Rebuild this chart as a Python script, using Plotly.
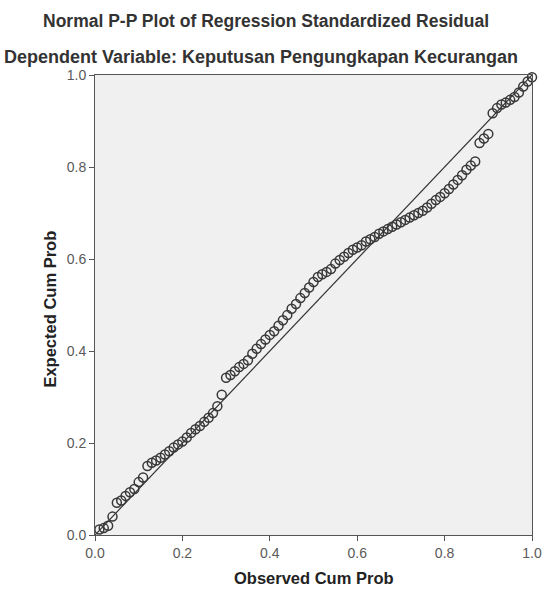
import plotly.graph_objects as go

observed_cum_prob = [
    0.01, 0.02, 0.03, 0.04, 0.05, 0.06, 0.07, 0.08, 0.09, 0.10,
    0.11, 0.12, 0.13, 0.14, 0.15, 0.16, 0.17, 0.18, 0.19, 0.20,
    0.21, 0.22, 0.23, 0.24, 0.25, 0.26, 0.27, 0.28, 0.29, 0.30,
    0.31, 0.32, 0.33, 0.34, 0.35, 0.36, 0.37, 0.38, 0.39, 0.40,
    0.41, 0.42, 0.43, 0.44, 0.45, 0.46, 0.47, 0.48, 0.49, 0.50,
    0.51, 0.52, 0.53, 0.54, 0.55, 0.56, 0.57, 0.58, 0.59, 0.60,
    0.61, 0.62, 0.63, 0.64, 0.65, 0.66, 0.67, 0.68, 0.69, 0.70,
    0.71, 0.72, 0.73, 0.74, 0.75, 0.76, 0.77, 0.78, 0.79, 0.80,
    0.81, 0.82, 0.83, 0.84, 0.85, 0.86, 0.87, 0.88, 0.89, 0.90,
    0.91, 0.92, 0.93, 0.94, 0.95, 0.96, 0.97, 0.98, 0.99, 1.00,
]
expected_cum_prob = [
    0.012, 0.015, 0.020, 0.040, 0.070, 0.075, 0.085, 0.093, 0.100, 0.115,
    0.125, 0.150, 0.157, 0.162, 0.168, 0.175, 0.182, 0.190, 0.197, 0.203,
    0.212, 0.222, 0.230, 0.237, 0.246, 0.255, 0.265, 0.280, 0.305, 0.342,
    0.348, 0.356, 0.365, 0.372, 0.380, 0.394, 0.405, 0.415, 0.425, 0.435,
    0.443, 0.455, 0.467, 0.478, 0.492, 0.502, 0.515, 0.526, 0.538, 0.550,
    0.561, 0.567, 0.572, 0.578, 0.590, 0.598, 0.605, 0.613, 0.620, 0.625,
    0.630, 0.638, 0.643, 0.648, 0.655, 0.660, 0.665, 0.670, 0.675, 0.680,
    0.685, 0.690, 0.695, 0.700, 0.705, 0.712, 0.720, 0.728, 0.735, 0.743,
    0.752, 0.762, 0.772, 0.782, 0.794, 0.803, 0.812, 0.852, 0.862, 0.872,
    0.917, 0.928, 0.936, 0.940, 0.946, 0.952, 0.962, 0.975, 0.986, 0.995,
]
reference_line = [0.0, 1.0]
tick_values = [0.0, 0.2, 0.4, 0.6, 0.8, 1.0]
tick_labels = ["0.0", "0.2", "0.4", "0.6", "0.8", "1.0"]

title_text = "Normal P-P Plot of Regression Standardized Residual"
subtitle_text = "Dependent Variable: Keputusan Pengungkapan Kecurangan"
x_title = "Observed Cum Prob"
y_title = "Expected Cum Prob"

FONT = "Liberation Sans, Arial, sans-serif"

fig = go.Figure()
fig.add_trace(go.Scatter(
    x=reference_line, y=reference_line, mode="lines",
    line=dict(color="#333333", width=1.2), hoverinfo="skip", showlegend=False,
))
fig.add_trace(go.Scatter(
    x=observed_cum_prob, y=expected_cum_prob, mode="markers", cliponaxis=False,
    marker=dict(symbol="circle-open", size=9, color="#383838", line=dict(width=1.5)),
    showlegend=False,
))

axis_common = dict(
    range=[0, 1], tickvals=tick_values, ticktext=tick_labels,
    showgrid=False, zeroline=False, showline=True, linecolor="#555555", linewidth=1,
    mirror=True, ticks="outside", ticklen=5, tickcolor="#555555",
    tickfont=dict(family=FONT, size=14, color="#5a5a5a"), fixedrange=True,
)
fig.update_xaxes(**axis_common)
fig.update_yaxes(**axis_common)

fig.update_layout(
    width=554, height=591,
    margin=dict(l=95, r=19, t=75, b=56),
    paper_bgcolor="white", plot_bgcolor="#f0f0f0",
    font=dict(family=FONT),
    annotations=[
        dict(text="<b>%s</b>" % title_text, x=0.392, y=1.117, xref="paper", yref="paper",
             xanchor="center", yanchor="middle", showarrow=False,
             font=dict(family=FONT, size=17.5, color="#333333")),
        dict(text="<b>%s</b>" % subtitle_text, x=0.38, y=1.039, xref="paper", yref="paper",
             xanchor="center", yanchor="middle", showarrow=False,
             font=dict(family=FONT, size=18, color="#333333")),
        dict(text="<b>%s</b>" % x_title, x=0.5, y=-0.093, xref="paper", yref="paper",
             xanchor="center", yanchor="middle", showarrow=False,
             font=dict(family=FONT, size=16.5, color="#222222")),
        dict(text="<b>%s</b>" % y_title, x=-0.102, y=0.491, xref="paper", yref="paper",
             xanchor="center", yanchor="middle", showarrow=False, textangle=-90,
             font=dict(family=FONT, size=16.5, color="#222222")),
    ],
)

fig.write_html(
    "out.html",
    config={"displayModeBar": False},
    post_script="document.body.style.margin='0';document.body.style.overflow='hidden';",
)
